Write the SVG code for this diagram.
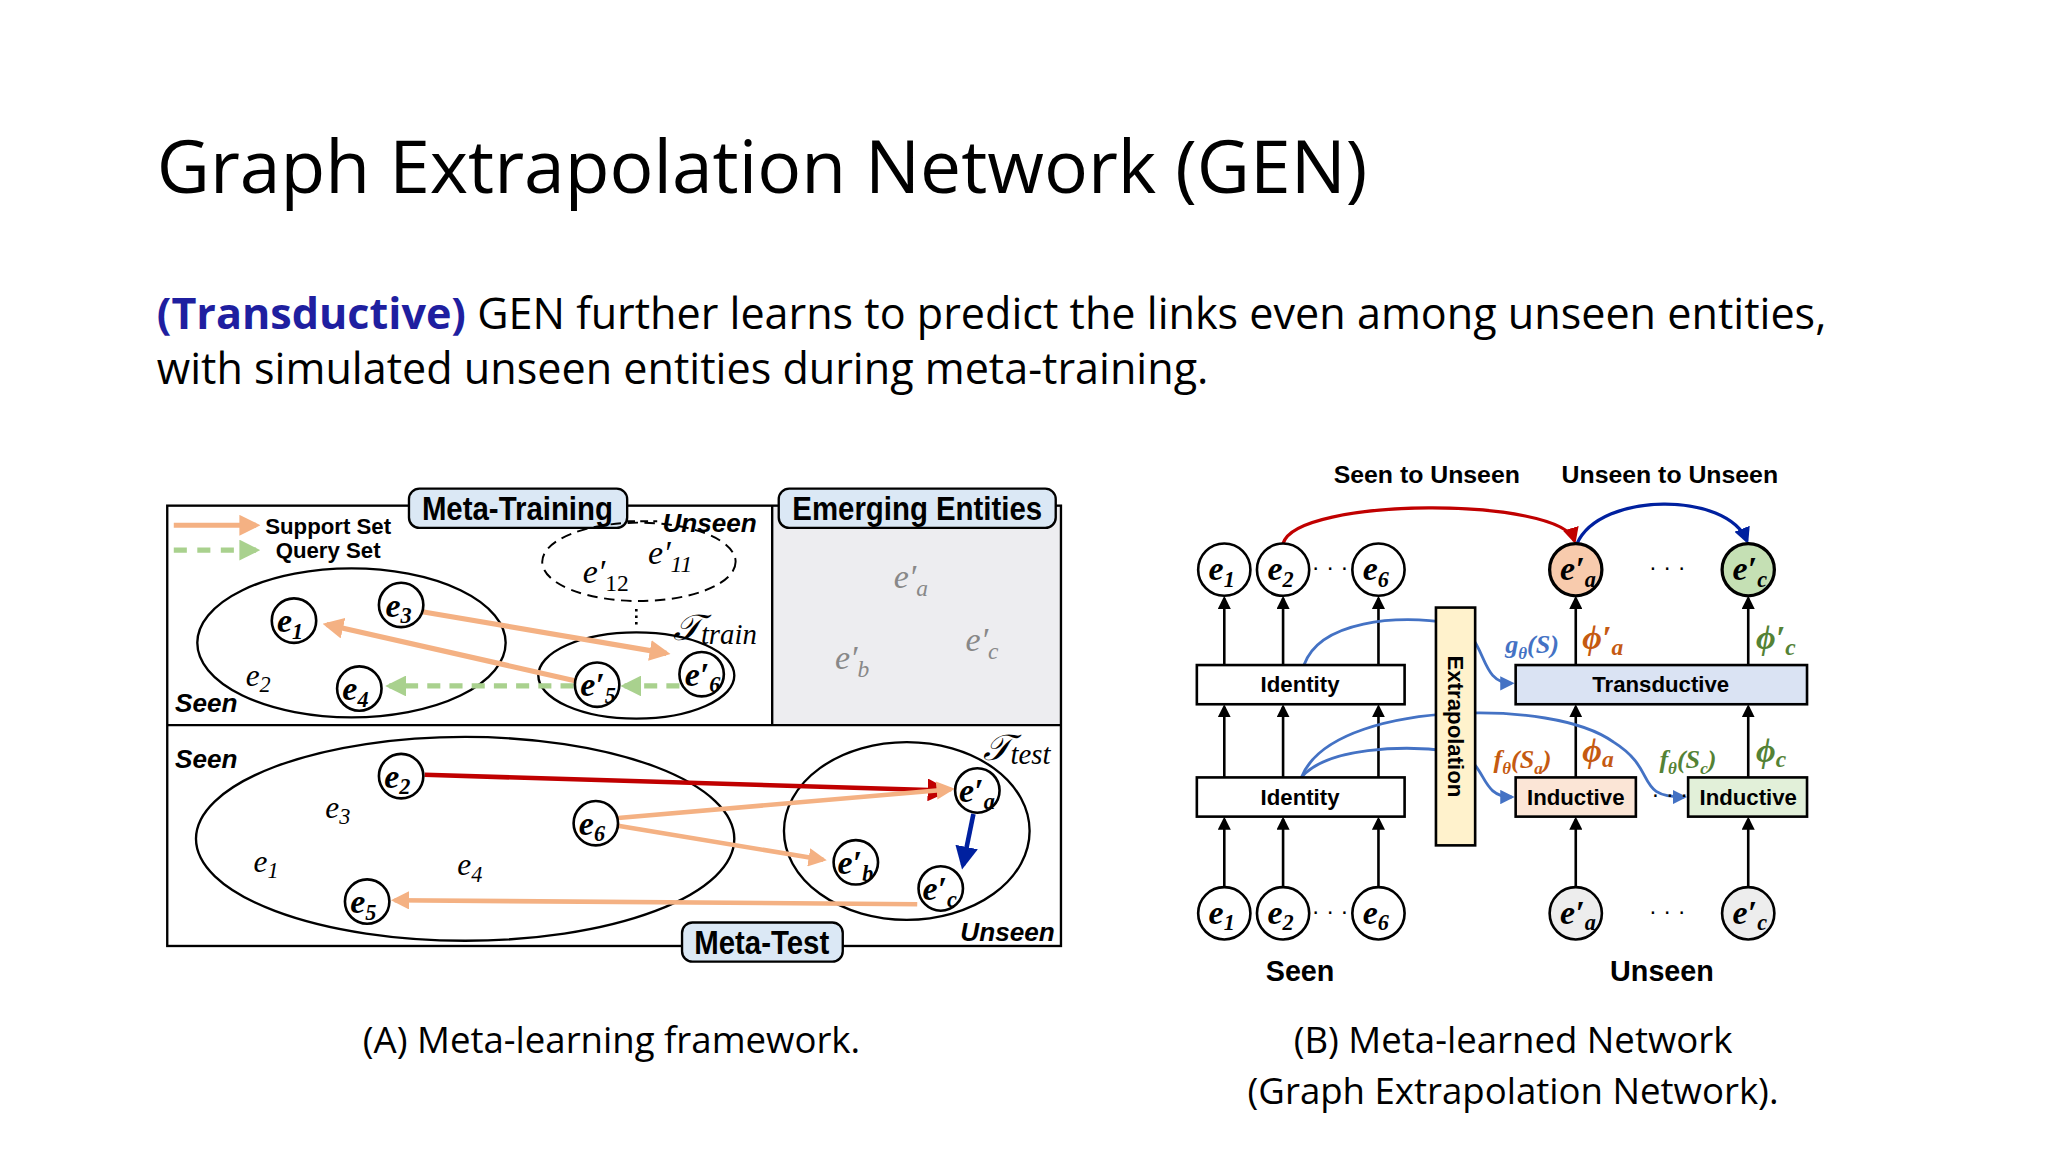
<svg xmlns="http://www.w3.org/2000/svg" width="2048" height="1152" viewBox="0 0 2048 1152">
<defs>
<style>
.t{font-family:"Open Sans","Noto Sans",sans-serif;fill:#000}
.b{font-family:"Liberation Sans",Arial,sans-serif;font-weight:bold}
.m{font-family:"Liberation Serif","DejaVu Serif",serif;font-style:italic}
.mb{font-family:"Liberation Serif","DejaVu Serif",serif;font-style:italic;font-weight:bold;font-size:26px}
.node{fill:#fff;stroke:#000;stroke-width:2}
.ln{fill:none;stroke:#000;stroke-width:1.8}
.lbl{fill:#dbe8f5;stroke:#000;stroke-width:1.8}
</style>
<marker id="ao" viewBox="0 0 10 10" refX="8" refY="5" markerWidth="4" markerHeight="4" orient="auto"><path d="M0,0L10,5L0,10z" fill="#f4b183"/></marker>
<marker id="ag" viewBox="0 0 10 10" refX="8" refY="5" markerWidth="4" markerHeight="4" orient="auto"><path d="M0,0L10,5L0,10z" fill="#a9d18e"/></marker>
<marker id="ar" viewBox="0 0 10 10" refX="8" refY="5" markerWidth="5" markerHeight="5" orient="auto"><path d="M0,0L10,5L0,10z" fill="#c00000"/></marker>
<marker id="ad" viewBox="0 0 10 10" refX="8" refY="5" markerWidth="5" markerHeight="5" orient="auto"><path d="M0,0L10,5L0,10z" fill="#00209f"/></marker>
<marker id="ab" viewBox="0 0 10 10" refX="8" refY="5" markerWidth="5" markerHeight="5" orient="auto"><path d="M0,0L10,5L0,10z" fill="#4472c4"/></marker>
<marker id="ak" viewBox="0 0 10 10" refX="8" refY="5" markerWidth="5" markerHeight="5" orient="auto"><path d="M0,0L10,5L0,10z" fill="#000"/></marker>
</defs>
<rect width="2048" height="1152" fill="#fff"/>
<g transform="scale(1.3066)">
<g id="title">
<text class="t" x="120" y="148" font-size="56">Graph Extrapolation Network (GEN)</text>
<text class="t" x="120" y="252" font-size="33"><tspan fill="#1f1fa0" font-weight="bold">(Transductive)</tspan> GEN further learns to predict the links even among unseen entities,</text>
<text class="t" x="120" y="294" font-size="33">with simulated unseen entities during meta-training.</text>
</g>
<!-- Panel A -->
<g id="panelA">
<rect x="591" y="387" width="221" height="168" fill="#ededf0"/>
<rect x="128" y="387" width="684" height="337" class="ln"/>
<line x1="128" y1="555" x2="812" y2="555" class="ln"/>
<line x1="591" y1="387" x2="591" y2="555" class="ln"/>
<rect x="313" y="374" width="167" height="30" rx="8" class="lbl"/>
<text class="b" x="396" y="398" font-size="25" text-anchor="middle" transform="translate(396 0) scale(0.9 1) translate(-396 0)">Meta-Training</text>
<rect x="596" y="374" width="212" height="30" rx="8" class="lbl"/>
<text class="b" x="702" y="398" font-size="25" text-anchor="middle" transform="translate(702 0) scale(0.9 1) translate(-702 0)">Emerging Entities</text>
<rect x="522" y="706" width="123" height="30" rx="8" class="lbl"/>
<text class="b" x="583" y="730" font-size="25" text-anchor="middle" transform="translate(583 0) scale(0.9 1) translate(-583 0)">Meta-Test</text>
<line x1="133" y1="402" x2="196" y2="402" stroke="#f4b183" stroke-width="4" marker-end="url(#ao)"/>
<line x1="133" y1="421" x2="196" y2="421" stroke="#a9d18e" stroke-width="4" stroke-dasharray="10 8" marker-end="url(#ag)"/>
<text class="b" x="203" y="409" font-size="17">Support Set</text>
<text class="b" x="211" y="427" font-size="17">Query Set</text>
<line x1="480" y1="399" x2="503" y2="399" stroke="#000" stroke-width="1.5" stroke-dasharray="6 4"/>
<text class="b" x="507" y="407" font-size="20" font-style="italic">Unseen</text>
<ellipse cx="489" cy="430" rx="74" ry="30" fill="none" stroke="#000" stroke-width="1.5" stroke-dasharray="8 5"/>
<text class="m" x="446" y="446" font-size="26" font-style="normal">e′<tspan font-size="18" dy="6" font-style="normal">12</tspan></text>
<text class="m" x="496" y="432" font-size="26" font-style="normal">e′<tspan font-size="18" dy="6">11</tspan></text>
<line x1="487" y1="466" x2="487" y2="480" stroke="#000" stroke-width="2" stroke-dasharray="2 3"/>
<text class="m" x="515" y="490" font-size="28">𝒯<tspan font-size="22" dy="3">train</tspan></text>
<ellipse cx="269" cy="492" rx="118" ry="57" class="ln"/>
<ellipse cx="487" cy="517" rx="75" ry="33" class="ln"/>
<text class="b" x="134" y="545" font-size="20" font-style="italic">Seen</text>
<text class="m" x="188" y="525" font-size="24" font-style="normal">e<tspan font-size="17" dy="5">2</tspan></text>
<line x1="322" y1="468" x2="510" y2="500" stroke="#f4b183" stroke-width="4" marker-end="url(#ao)"/>
<line x1="440" y1="521" x2="250" y2="478" stroke="#f4b183" stroke-width="4" marker-end="url(#ao)"/>
<line x1="520" y1="525" x2="478" y2="525" stroke="#a9d18e" stroke-width="4" stroke-dasharray="10 7" marker-end="url(#ag)"/>
<line x1="439" y1="525" x2="298" y2="525" stroke="#a9d18e" stroke-width="4" stroke-dasharray="10 7" marker-end="url(#ag)"/>
<g id="a_e1"><circle cx="225" cy="475" r="17" class="node"/><text class="mb" x="212" y="484">e<tspan font-size="17" dy="5">1</tspan></text></g>
<g id="a_e3"><circle cx="307" cy="463" r="17" class="node"/><text class="mb" x="295" y="472">e<tspan font-size="17" dy="5">3</tspan></text></g>
<g id="a_e4"><circle cx="275" cy="527" r="17" class="node"/><text class="mb" x="262" y="536">e<tspan font-size="17" dy="5">4</tspan></text></g>
<g id="a_e5p"><circle cx="457" cy="524" r="17" class="node"/><text class="mb" x="444" y="533">e′<tspan font-size="17" dy="5">5</tspan></text></g>
<g id="a_e6p"><circle cx="537" cy="516" r="17" class="node"/><text class="mb" x="524" y="525">e′<tspan font-size="17" dy="5">6</tspan></text></g>
<text class="m" x="684" y="450" font-size="26" fill="#888" font-style="normal">e′<tspan font-size="18" dy="6" font-style="italic">a</tspan></text>
<text class="m" x="639" y="512" font-size="26" fill="#888" font-style="normal">e′<tspan font-size="18" dy="6" font-style="italic">b</tspan></text>
<text class="m" x="739" y="498" font-size="26" fill="#888" font-style="normal">e′<tspan font-size="18" dy="6" font-style="italic">c</tspan></text>
<!-- bottom -->
<text class="b" x="134" y="588" font-size="20" font-style="italic">Seen</text>
<ellipse cx="356" cy="642" rx="206" ry="78" class="ln"/>
<ellipse cx="694" cy="636" rx="94" ry="68" class="ln"/>
<text class="m" x="752" y="582" font-size="28">𝒯<tspan font-size="22" dy="3">test</tspan></text>
<text class="b" x="735" y="720" font-size="20" font-style="italic">Unseen</text>
<text class="m" x="249" y="626" font-size="24" font-style="normal">e<tspan font-size="17" dy="5">3</tspan></text>
<text class="m" x="194" y="667" font-size="24" font-style="normal">e<tspan font-size="17" dy="5">1</tspan></text>
<text class="m" x="350" y="670" font-size="24" font-style="normal">e<tspan font-size="17" dy="5">4</tspan></text>
<line x1="325" y1="593" x2="724" y2="605" stroke="#c00000" stroke-width="3.5" marker-end="url(#ar)"/>
<line x1="473" y1="626" x2="728" y2="604" stroke="#f4b183" stroke-width="3.5" marker-end="url(#ao)"/>
<line x1="473" y1="632" x2="630" y2="658" stroke="#f4b183" stroke-width="3.5" marker-end="url(#ao)"/>
<line x1="702" y1="692" x2="302" y2="689" stroke="#f4b183" stroke-width="3.5" marker-end="url(#ao)"/>
<line x1="745" y1="623" x2="737" y2="662" stroke="#00209f" stroke-width="3.5" marker-end="url(#ad)"/>
<g id="b_e2"><circle cx="307" cy="594" r="17" class="node"/><text class="mb" x="294" y="603">e<tspan font-size="17" dy="5">2</tspan></text></g>
<g id="b_e6"><circle cx="456" cy="630" r="17" class="node"/><text class="mb" x="443" y="639">e<tspan font-size="17" dy="5">6</tspan></text></g>
<g id="b_e5"><circle cx="281" cy="690" r="17" class="node"/><text class="mb" x="268" y="699">e<tspan font-size="17" dy="5">5</tspan></text></g>
<g id="b_ea"><circle cx="748" cy="605" r="17" class="node"/><text class="mb" x="734" y="614">e′<tspan font-size="17" dy="5">a</tspan></text></g>
<g id="b_eb"><circle cx="655" cy="660" r="17" class="node"/><text class="mb" x="641" y="669">e′<tspan font-size="17" dy="5">b</tspan></text></g>
<g id="b_ec"><circle cx="720" cy="680" r="17" class="node"/><text class="mb" x="706" y="689">e′<tspan font-size="17" dy="5">c</tspan></text></g>
<text class="t" x="468" y="806" font-size="28" text-anchor="middle">(A) Meta-learning framework.</text>
</g>
<!-- Panel B -->
<g id="connectors" fill="none">
<g stroke="#000" stroke-width="2" marker-end="url(#ak)">
<line x1="937" y1="679" x2="937" y2="627"/><line x1="982" y1="679" x2="982" y2="627"/><line x1="1055" y1="679" x2="1055" y2="627"/>
<line x1="937" y1="595" x2="937" y2="541"/><line x1="982" y1="595" x2="982" y2="541"/><line x1="1055" y1="595" x2="1055" y2="541"/>
<line x1="937" y1="509" x2="937" y2="458"/><line x1="982" y1="509" x2="982" y2="458"/><line x1="1055" y1="509" x2="1055" y2="458"/>
<line x1="1206" y1="679" x2="1206" y2="627"/><line x1="1338" y1="679" x2="1338" y2="627"/>
<line x1="1206" y1="595" x2="1206" y2="541"/><line x1="1338" y1="595" x2="1338" y2="541"/>
<line x1="1206" y1="509" x2="1206" y2="458"/><line x1="1338" y1="509" x2="1338" y2="458"/>
</g>
<g stroke="#4472c4" stroke-width="2.2" marker-end="url(#ab)">
<path d="M998 509 C1010 475 1070 470 1110 477 C1140 485 1130 523 1157 523"/>
<path d="M996 595 C1010 560 1070 548 1115 546 C1160 544 1210 550 1235 568 C1270 590 1250 610 1289 610"/>
<path d="M996 595 C1015 572 1075 570 1110 575 C1140 580 1130 610 1157 610"/>
</g>
<path d="M982 416 C992 380 1195 380 1205 414" stroke="#c00000" stroke-width="2.5" marker-end="url(#ar)"/>
<path d="M1207 416 C1225 376 1322 376 1337 414" stroke="#00209f" stroke-width="2.5" marker-end="url(#ad)"/>
</g>
<g id="panelB">
<text class="b" x="1092" y="370" font-size="19" text-anchor="middle">Seen to Unseen</text>
<text class="b" x="1278" y="370" font-size="19" text-anchor="middle">Unseen to Unseen</text>
<g id="ident1"><rect x="916" y="509" width="159" height="30" class="node"/><text class="b" x="995" y="530" font-size="17" text-anchor="middle">Identity</text></g>
<g id="ident2"><rect x="916" y="595" width="159" height="30" class="node"/><text class="b" x="995" y="616" font-size="17" text-anchor="middle">Identity</text></g>
<g id="extra"><rect x="1099" y="465" width="30" height="182" fill="#fff2cc" stroke="#000" stroke-width="2"/><text class="b" font-size="17" text-anchor="middle" transform="translate(1108 556) rotate(90)">Extrapolation</text></g>
<g id="trans"><rect x="1160" y="509" width="223" height="30" fill="#dae3f3" stroke="#000" stroke-width="2"/><text class="b" x="1271" y="530" font-size="17" text-anchor="middle">Transductive</text></g>
<g id="inda"><rect x="1160" y="595" width="92" height="30" fill="#fbe5d6" stroke="#000" stroke-width="2"/><text class="b" x="1206" y="616" font-size="17" text-anchor="middle">Inductive</text></g>
<g id="indc"><rect x="1292" y="595" width="91" height="30" fill="#e2f0d9" stroke="#000" stroke-width="2"/><text class="b" x="1338" y="616" font-size="17" text-anchor="middle">Inductive</text></g>
<text x="1264" y="614" font-size="18" font-family="Liberation Sans,sans-serif">· · ·</text>
<g id="t_e1"><circle cx="937" cy="436" r="20" class="node"/><text class="mb" x="925" y="444">e<tspan font-size="17" dy="5">1</tspan></text></g>
<g id="t_e2"><circle cx="982" cy="436" r="20" class="node"/><text class="mb" x="970" y="444">e<tspan font-size="17" dy="5">2</tspan></text></g>
<g id="t_e6"><circle cx="1055" cy="436" r="20" class="node"/><text class="mb" x="1043" y="444">e<tspan font-size="17" dy="5">6</tspan></text></g>
<text x="1004" y="440" font-size="18" font-family="Liberation Sans,sans-serif">· · ·</text>
<g id="t_ea"><circle cx="1206" cy="436" r="20" fill="#f8cbad" stroke="#000" stroke-width="2.5"/><text class="mb" x="1194" y="444">e′<tspan font-size="17" dy="5">a</tspan></text></g>
<g id="t_ec"><circle cx="1338" cy="436" r="20" fill="#c5e0b4" stroke="#000" stroke-width="2.5"/><text class="mb" x="1326" y="444">e′<tspan font-size="17" dy="5">c</tspan></text></g>
<text x="1262" y="440" font-size="18" font-family="Liberation Sans,sans-serif">· · ·</text>
<g id="b2_e1"><circle cx="937" cy="699" r="20" class="node"/><text class="mb" x="925" y="707">e<tspan font-size="17" dy="5">1</tspan></text></g>
<g id="b2_e2"><circle cx="982" cy="699" r="20" class="node"/><text class="mb" x="970" y="707">e<tspan font-size="17" dy="5">2</tspan></text></g>
<g id="b2_e6"><circle cx="1055" cy="699" r="20" class="node"/><text class="mb" x="1043" y="707">e<tspan font-size="17" dy="5">6</tspan></text></g>
<text x="1004" y="703" font-size="18" font-family="Liberation Sans,sans-serif">· · ·</text>
<g id="b2_ea"><circle cx="1206" cy="699" r="20" fill="#ededed" stroke="#000" stroke-width="2"/><text class="mb" x="1194" y="707">e′<tspan font-size="17" dy="5">a</tspan></text></g>
<g id="b2_ec"><circle cx="1338" cy="699" r="20" fill="#ededed" stroke="#000" stroke-width="2"/><text class="mb" x="1326" y="707">e′<tspan font-size="17" dy="5">c</tspan></text></g>
<text x="1262" y="703" font-size="18" font-family="Liberation Sans,sans-serif">· · ·</text>
<text class="m" x="1152" y="500" font-size="20" fill="#4472c4" font-weight="bold">g<tspan font-size="13" dy="4">θ</tspan><tspan dy="-4">(S)</tspan></text>
<text class="m" x="1211" y="497" font-size="26" fill="#c55a11" font-weight="bold">ϕ′<tspan font-size="18" dy="4">a</tspan></text>
<text class="m" x="1344" y="497" font-size="26" fill="#548235" font-weight="bold">ϕ′<tspan font-size="18" dy="4">c</tspan></text>
<text class="m" x="1143" y="588" font-size="20" fill="#c55a11" font-weight="bold">f<tspan font-size="13" dy="4">θ</tspan><tspan dy="-4">(S</tspan><tspan font-size="13" dy="4">a</tspan><tspan dy="-4">)</tspan></text>
<text class="m" x="1211" y="583" font-size="26" fill="#c55a11" font-weight="bold">ϕ<tspan font-size="18" dy="4">a</tspan></text>
<text class="m" x="1270" y="588" font-size="20" fill="#548235" font-weight="bold">f<tspan font-size="13" dy="4">θ</tspan><tspan dy="-4">(S</tspan><tspan font-size="13" dy="4">c</tspan><tspan dy="-4">)</tspan></text>
<text class="m" x="1344" y="583" font-size="26" fill="#548235" font-weight="bold">ϕ<tspan font-size="18" dy="4">c</tspan></text>
<text class="b" x="995" y="751" font-size="22" text-anchor="middle">Seen</text>
<text class="b" x="1272" y="751" font-size="22" text-anchor="middle">Unseen</text>
<text class="t" x="1158" y="806" font-size="28" text-anchor="middle">(B) Meta-learned Network</text>
<text class="t" x="1158" y="845" font-size="28" text-anchor="middle">(Graph Extrapolation Network).</text>
</g>
</g>
</svg>
